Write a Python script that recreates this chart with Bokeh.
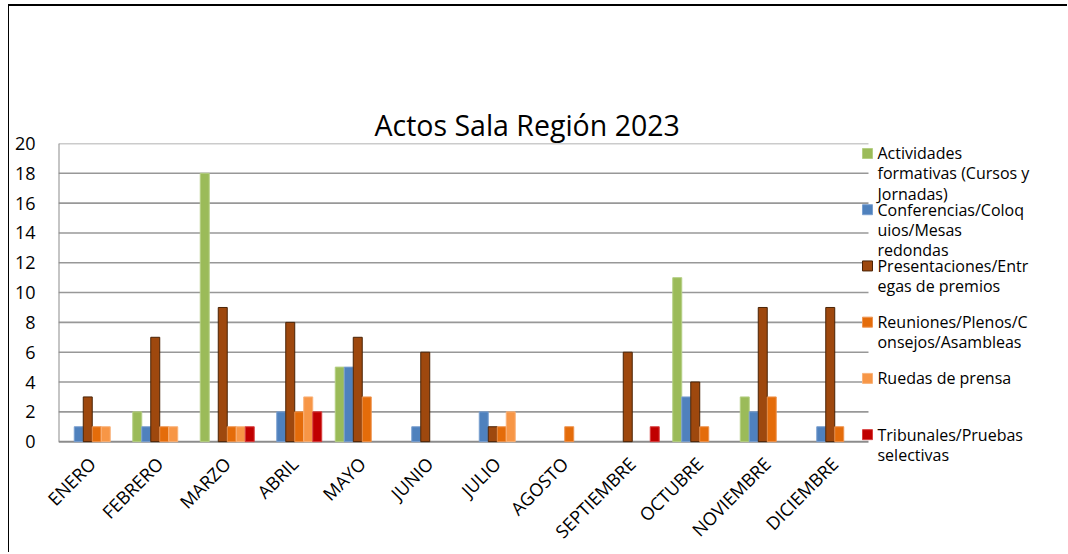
from bokeh.plotting import figure
from bokeh.models import ColumnDataSource, FixedTicker, Range1d, CDSView, BooleanFilter
from bokeh.core.properties import value
from bokeh.transform import dodge
from bokeh.embed import file_html
from bokeh.resources import INLINE
from math import pi

months = ["ENERO", "FEBRERO", "MARZO", "ABRIL", "MAYO", "JUNIO", "JULIO",
          "AGOSTO", "SEPTIEMBRE", "OCTUBRE", "NOVIEMBRE", "DICIEMBRE"]

actividades = [0, 2, 18, 0, 5, 0, 0, 0, 0, 11, 3, 0]
conferencias = [1, 1, 0, 2, 5, 1, 2, 0, 0, 3, 2, 1]
presentaciones = [3, 7, 9, 8, 7, 6, 1, 0, 6, 4, 9, 9]
reuniones = [1, 1, 1, 2, 3, 0, 1, 1, 0, 1, 3, 1]
ruedas = [1, 1, 1, 3, 0, 0, 2, 0, 0, 0, 0, 0]
tribunales = [0, 0, 1, 2, 0, 0, 0, 0, 1, 0, 0, 0]

series_keys = ["actividades", "conferencias", "presentaciones", "reuniones", "ruedas", "tribunales"]
series_values = [actividades, conferencias, presentaciones, reuniones, ruedas, tribunales]
series_labels = [
    ["Actividades", "formativas (Cursos y", "Jornadas)"],
    ["Conferencias/Coloq", "uios/Mesas", "redondas"],
    ["Presentaciones/Entr", "egas de premios"],
    ["Reuniones/Plenos/C", "onsejos/Asambleas"],
    ["Ruedas de prensa"],
    ["Tribunales/Pruebas", "selectivas"],
]
colors = ["#9BBB59", "#4F81BD", "#9E480E", "#E46C0A", "#F79646", "#C00000"]
outlines = ["#B5CF84", "#7BA0D0", "#4A2306", "#EE9450", "#F9B27A", "#D84040"]

title_text = "Actos Sala Región 2023"
y_ticks = list(range(0, 21, 2))

FONT = "Open Sans"
n = len(months)

data = {"month": months, "xc": [i + 0.5 for i in range(n)]}
for k, v in zip(series_keys, series_values):
    data[k] = v
source = ColumnDataSource(data)

p = figure(x_range=Range1d(0, 14.963), y_range=Range1d(-1.6, 20),
           width=1059, height=548,
           output_backend="svg", toolbar_location=None,
           min_border_left=49, min_border_right=0,
           min_border_top=137, min_border_bottom=89,
           styles={"margin-left": "8px", "margin-top": "4px",
                   "border-top": "2px solid black", "border-left": "1px solid black"})
p.outline_line_color = None
p.background_fill_color = "white"
p.border_fill_color = "white"

# gridlines (only across the month area)
p.xgrid.grid_line_color = None
p.ygrid.grid_line_color = None
p.segment(x0=[0] * (len(y_ticks) - 1), x1=[n] * (len(y_ticks) - 1),
          y0=y_ticks[1:], y1=y_ticks[1:], line_color="#989898", line_width=1.6)
# axis lines
p.segment(x0=[0, 0], x1=[n, 0], y0=[0, 0], y1=[0, 20], line_color="#8C8C8C", line_width=2)

w = 0.1333
for i, (k, vals, c, oc) in enumerate(zip(series_keys, series_values, colors, outlines)):
    off = (i - 2.5) * w
    view = CDSView(filter=BooleanFilter([v > 0 for v in vals]))
    p.vbar(x=dodge("xc", off), top=k, bottom=0, width=w,
           source=source, view=view, fill_color=c, line_color=oc, line_width=1)

p.yaxis.ticker = FixedTicker(ticks=y_ticks)
p.yaxis.minor_tick_line_color = None
p.yaxis.major_tick_line_color = None
p.yaxis.axis_line_color = None
p.yaxis.major_label_text_font = FONT
p.yaxis.major_label_text_font_size = "18px"
p.yaxis.major_label_text_color = "black"
p.yaxis.major_label_standoff = 17

p.xaxis.ticker = FixedTicker(ticks=[i + 0.5 for i in range(n)])
p.xaxis.major_label_overrides = {i + 0.5: m for i, m in enumerate(months)}
p.xaxis.major_tick_line_color = None
p.xaxis.minor_tick_line_color = None
p.xaxis.axis_line_color = None
p.xaxis.major_label_orientation = pi / 4
p.xaxis.major_label_text_font = FONT
p.xaxis.major_label_text_font_size = "18px"
p.xaxis.major_label_text_color = "black"
p.xaxis.major_label_standoff = -11

# title
p.title.text = title_text
p.title.align = "left"
p.title.offset = 316
p.title.standoff = 0
p.title.text_font = FONT
p.title.text_font_size = "28.5px"
p.title.text_font_style = "normal"
p.title.text_color = "black"

# legend drawn in data space to the right of the months
px_x = 67.5  # px per x unit
px_y = 14.9  # px per y unit
first = 19.33
step = 56.2 / px_y
line_step = 20.0 / px_y
mx = 12 - 1.0 / px_x
tx = 12 + 9.0 / px_x
lx, ly, lt = [], [], []
for idx, lines in enumerate(series_labels):
    yc = first - idx * step
    for j, t in enumerate(lines):
        lx.append(tx)
        ly.append(yc - j * line_step)
        lt.append(t)
p.scatter(x=[mx] * len(colors), y=[first - idx * step for idx in range(len(colors))],
          marker="square", size=10, fill_color=colors, line_color=outlines, line_width=1)
p.text(x=lx, y=ly, text=lt, text_font=value(FONT), text_font_size="16px",
       text_color="black", text_align="left", text_baseline="middle")

open("out.html", "w").write(file_html(p, INLINE))
